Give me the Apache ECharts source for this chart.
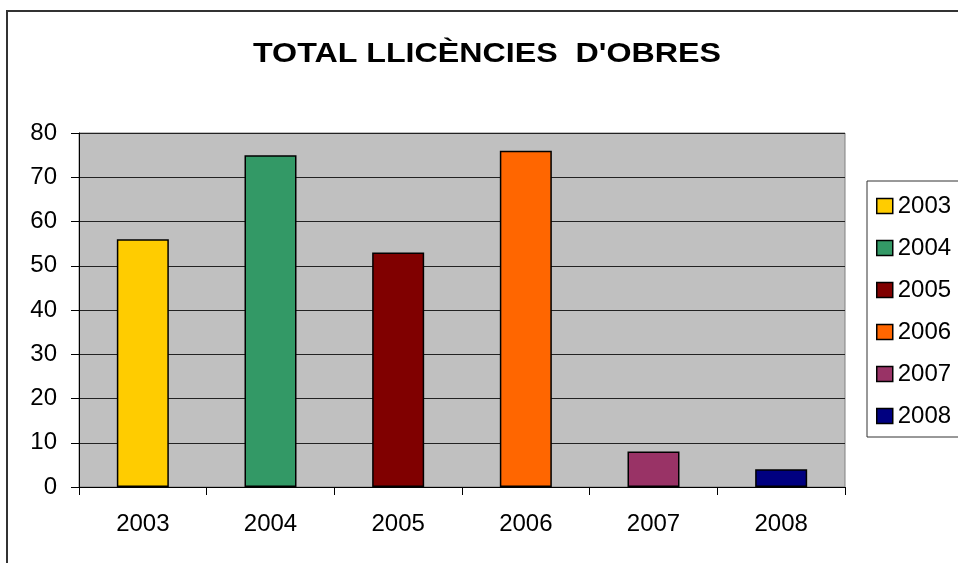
<!DOCTYPE html>
<html>
<head>
<meta charset="utf-8">
<script src="https://cdn.jsdelivr.net/npm/echarts@6/dist/echarts.min.js"></script>
<style>html,body{margin:0;padding:0;background:#fff}#c{width:958px;height:563px}</style>
</head>
<body>
<div id="c"></div>
<script>
const titleText = "TOTAL LLICÈNCIES  D'OBRES";
const categories = ['2003', '2004', '2005', '2006', '2007', '2008'];
const values = [56, 75, 53, 76, 8, 4];
const colors = ['#FFCC00', '#339966', '#800000', '#FF6600', '#993366', '#000080'];
const yTicks = { min: 0, max: 80, interval: 10 };

const FONT = '"Liberation Sans", Arial, sans-serif';
const chart = echarts.init(document.getElementById('c'));

const series = categories.map((name, i) => ({
  name: name,
  type: 'bar',
  stack: 'all',
  barWidth: 52,
  data: categories.map((c, j) => (j === i ? values[i] : '-')),
  itemStyle: { color: colors[i], borderColor: '#000', borderWidth: 1.5 },
  emphasis: { disabled: true }
}));

chart.setOption({
  animation: false,
  textStyle: { fontFamily: FONT },
  graphic: [
    {
      type: 'rect', silent: true, z: -1,
      shape: { x: 7, y: 11, width: 2000, height: 2000 },
      style: { fill: 'none', stroke: '#333', lineWidth: 2 }
    },
    {
      type: 'text', silent: true,
      x: 487, y: 54, originX: 0, scaleX: 1.15,
      style: {
        text: titleText, font: 'bold 28px ' + FONT, fill: '#000',
        textAlign: 'center', textVerticalAlign: 'middle'
      }
    }
  ],
  grid: {
    left: 79, right: 113, top: 133, bottom: 76,
    show: true, backgroundColor: '#C0C0C0', borderColor: '#808080', borderWidth: 1
  },
  legend: {
    orient: 'vertical', left: 867, top: 181,
    padding: [13, 60, 9, 9],
    borderColor: '#333', borderWidth: 1, backgroundColor: '#fff',
    itemWidth: 16, itemHeight: 15, itemGap: 18,
    icon: 'rect',
    itemStyle: { borderColor: '#000', borderWidth: 1.5 },
    textStyle: { fontSize: 24, lineHeight: 24, color: '#000', fontFamily: FONT },
    data: categories
  },
  xAxis: {
    type: 'category', data: categories,
    axisLine: { lineStyle: { color: '#000', width: 1 } },
    axisTick: { show: true, length: 8, lineStyle: { color: '#000' } },
    axisLabel: { fontSize: 24, color: '#000', margin: 25, fontFamily: FONT },
    splitLine: { show: false }
  },
  yAxis: {
    type: 'value', min: yTicks.min, max: yTicks.max, interval: yTicks.interval,
    axisLine: { show: true, lineStyle: { color: '#000', width: 1 } },
    axisTick: { show: true, length: 8, lineStyle: { color: '#000' } },
    axisLabel: { fontSize: 24, color: '#000', margin: 22, fontFamily: FONT },
    splitLine: { show: true, lineStyle: { color: '#222', width: 1 } }
  },
  series: series
});
</script>
</body>
</html>
